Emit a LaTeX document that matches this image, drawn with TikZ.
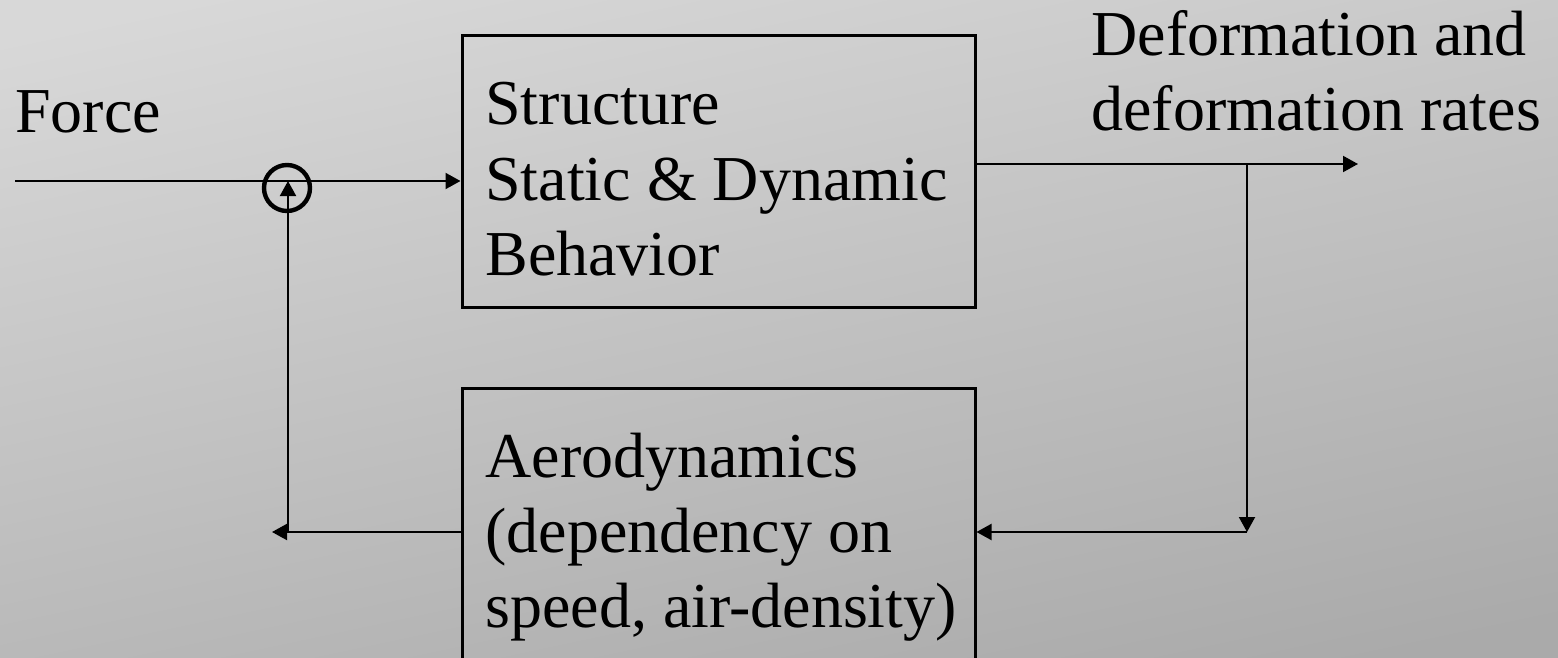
\documentclass[tikz,border=0pt]{standalone}
\usepackage{fontspec}
\setmainfont{Liberation Serif}
\usetikzlibrary{arrows.meta}
\definecolor{bgtop}{RGB}{216,216,216}
\definecolor{bgbot}{RGB}{170,170,170}
\begin{document}
\begin{tikzpicture}[x=0.5pt,y=-0.5pt,
  box/.style={draw, line width=1.5pt, rectangle, inner sep=0pt, minimum width=256.5pt},
  lbl/.style={anchor=base west, inner sep=0pt, font=\fontsize{32}{37.5}\selectfont},
  conn/.style={line width=1pt, -{Triangle[length=7.5pt,width=8pt]}},
  sumnode/.style={circle, draw, line width=2.2pt, minimum size=23pt, inner sep=0pt}]
\useasboundingbox (0,0) rectangle (1558,658);
\clip (0,0) rectangle (1558,658);
\shade[top color=bgtop, bottom color=bgbot, shading angle=12] (-40,-40) rectangle (1600,700);

% boxes
\node[box, minimum height=135.5pt] (struct) at (718.5,171.5) {};
\node[box, minimum height=166pt] (aero) at (718.5,554) {};
\node[sumnode] (sum) at (287,188) {};

% texts
\node[lbl] (force) at (15,133) {Force};
\node[lbl] (s1) at (485,125) {Structure};
\node[lbl] (s2) at (485,200) {Static \& Dynamic};
\node[lbl] (s3) at (485,275) {Behavior};
\node[lbl] (a1) at (485,477) {Aerodynamics};
\node[lbl] (a2) at (485,552) {(dependency on};
\node[lbl] (a3) at (485,627) {speed, air-density)};
\node[lbl] (d1) at (1091,56) {Deformation and};
\node[lbl] (d2) at (1091,131) {deformation rates};

% connectors
\coordinate (fin) at (15,181);
\draw[conn] (fin) -- (fin -| struct.west);
\coordinate (out) at (1358,164);
\draw[conn] (out -| struct.east) -- (out);
\coordinate (br) at (1247,164);
\coordinate (brd) at (1247,532);
\draw[conn] (br) -- (brd);
\draw[conn] (brd) -- (brd -| aero.east);
\coordinate (fbend) at (272,532);
\draw[conn] (fbend -| aero.west) -- (fbend);
\coordinate (fbc) at (288,532);
\draw[conn] (fbc) -- (fbc |- fin);
\end{tikzpicture}
\end{document}
